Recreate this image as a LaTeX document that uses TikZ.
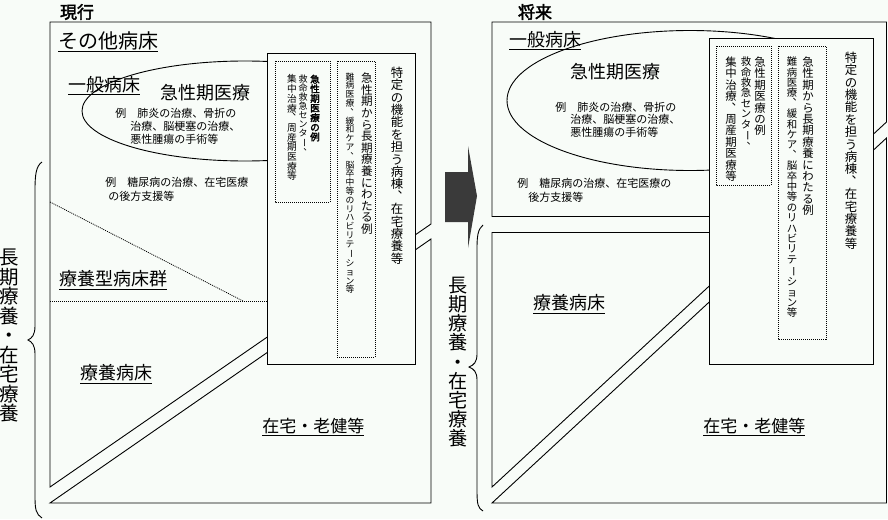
\documentclass[tikz,border=0pt]{standalone}
\usepackage{fontspec}
\usepackage{graphicx}
\setmainfont{Noto Sans CJK JP}[AutoFakeBold=2.5]
\newcommand\hsz[1]{\fontsize{#1}{#1}\selectfont}
\definecolor{bg}{RGB}{248,252,248}
\definecolor{arrowgrey}{RGB}{58,58,58}

\ExplSyntaxOn
\cs_new:Npn \tate_char:n #1
  {
    \str_case:nnF {#1}
      {
        {、}{ \hbox_to_wd:nn {1em} { \kern.55em \raisebox{.6em}[0pt][0pt]{\makebox[0pt][l]{、}} \hss } }
        {ー}{ \hbox_to_wd:nn {1em} { \hss \rotatebox[origin=c]{-90}{ー} \hss } }
      }
      { \hbox_to_wd:nn {1em} { \hss #1 \hss } }
  }
\NewDocumentCommand \tatebox { m }
  {
    \vbox:n
      {
        \offinterlineskip
        \tl_map_inline:nn {#1}
          { \hbox:n { \vrule height .88em depth .12em width 0pt \tate_char:n {##1} } }
      }
  }
\ExplSyntaxOff

\begin{document}
\begin{tikzpicture}[x=1pt, y=-1pt, line width=0.9pt]
  \tikzstyle{region} = [draw, fill=bg]
  \tikzstyle{dotbox} = [draw, line width=0.8pt, dash pattern=on 1pt off 1pt]
  \tikzstyle{lbl} = [anchor=west, inner sep=0pt, font=\hsz{18}]
  \tikzstyle{exl} = [anchor=west, inner sep=0pt, font=\hsz{11}]
  \tikzstyle{tate} = [anchor=north, inner sep=0pt]

  \useasboundingbox (0,0) rectangle (888,519);
  \fill[bg] (0,0) rectangle (888,519);

  % titles
  \node[inner sep=0pt, font=\hsz{17}\bfseries] (genko) at (77,12) {現行};
  \node[inner sep=0pt, font=\hsz{17}\bfseries] (shorai) at (535,12) {将来};

  % left panel
  \draw[region] (50,22) -- (431,22) -- (431,224) -- (50,487) -- cycle;
  \draw[region] (50,503) -- (431,503) -- (431,239) -- cycle;
  \draw[dotbox] (50,202) -- (243,301);
  \draw[dotbox] (50,301) -- (268,301);
  \draw (245,111) ellipse [x radius=163, y radius=50];

  \node[lbl, font=\hsz{20}] (sonota) at (58,42) {\underline{その他病床}};
  \node[lbl] (ippanL) at (68,86) {\underline{一般病床}};
  \node[lbl] (kyuseiL) at (160,93) {急性期医療};
  \node[exl] (exL1) at (115,113) {例　肺炎の治療、骨折の};
  \node[exl] (exL2) at (130,126) {治療、脳梗塞の治療、};
  \node[exl] (exL3) at (130,139) {悪性腫瘍の手術等};
  \node[exl] (exL4) at (105,182) {例　糖尿病の治療、在宅医療};
  \node[exl] (exL5) at (108,196) {の後方支援等};
  \node[lbl] (ryoyogata) at (59,280) {\underline{療養型病床群}};
  \node[lbl] (ryoyoL) at (80,374) {\underline{療養病床}};
  \node[lbl, font=\hsz{17}] (zaitakuL) at (262,427) {\underline{在宅・老健等}};

  \draw[region] (267,53) rectangle (415,364);
  \draw[dotbox] (275,61) rectangle (330,202);
  \draw[dotbox] (337,61) rectangle (375,357);
  \node[tate, font=\hsz{12.4}] (tokuteiL) at (397,66) {\tatebox{特定の機能を担う病棟、在宅療養等}};
  \node[tate, font=\hsz{11.6}] (choukiL) at (367,72) {\tatebox{急性期から長期療養にわたる例}};
  \node[tate, font=\hsz{8.8}] (nanbyoL) at (350,72) {\tatebox{難病医療、緩和ケア、脳卒中等のリハビリテーション等}};
  \node[tate, font=\hsz{9.6}\bfseries] (reiL) at (315,74) {\tatebox{急性期医療の例}};
  \node[tate, font=\hsz{9}] (kyumeiL) at (303,74) {\tatebox{救命救急センター、}};
  \node[tate, font=\hsz{9.7}] (shuchuL) at (292,74) {\tatebox{集中治療、周産期医療等}};

  \draw (42,162) .. controls (36,166) and (35,175) .. (35,190) -- (35,326)
    .. controls (35,335) and (32,338) .. (28,340)
    .. controls (32,342) and (35,345) .. (35,354) -- (35,496)
    .. controls (35,510) and (36,514) .. (42,518);
  \node[tate, font=\hsz{19.5}] (bikoL) at (9,247) {\tatebox{長期療養・在宅療養}};

  % arrow
  \fill[arrowgrey] (445,172) -- (468,172) -- (468,146) -- (477,196)
    -- (468,248) -- (468,222) -- (445,222) -- cycle;

  % right panel
  \draw[region] (492,22) -- (886.5,22) -- (886.5,122) -- (492,487) -- cycle;
  \draw[region] (492,503) -- (886.5,503) -- (886.5,138) -- cycle;
  \fill[bg] (490,216.5) rectangle (709,231.5);
  \draw (492,216) -- (709,216);
  \draw (492,232) -- (709,232);
  \draw (690,100.5) ellipse [x radius=183, y radius=70];

  \node[lbl] (ippanR) at (509,41) {\underline{一般病床}};
  \node[lbl] (kyuseiR) at (570,72) {急性期医療};
  \node[exl] (exR1) at (555,107) {例　肺炎の治療、骨折の};
  \node[exl] (exR2) at (570,119) {治療、脳梗塞の治療、};
  \node[exl] (exR3) at (570,132) {悪性腫瘍の手術等};
  \node[exl] (exR4) at (517,183) {例　糖尿病の治療、在宅医療の};
  \node[exl] (exR5) at (528,197) {後方支援等};
  \node[lbl] (ryoyoR) at (533,304) {\underline{療養病床}};
  \node[lbl, font=\hsz{17}] (zaitakuR) at (703,427) {\underline{在宅・老健等}};

  \draw[region] (709,38) rectangle (873,364);
  \draw[dotbox] (716,46) rectangle (771,185);
  \draw[dotbox] (778,46) rectangle (826,339);
  \node[tate, font=\hsz{12.4}] (tokuteiR) at (851,51) {\tatebox{特定の機能を担う病棟、在宅療養等}};
  \node[tate, font=\hsz{11.4}] (choukiR) at (808,56) {\tatebox{急性期から長期療養にわたる例}};
  \node[tate, font=\hsz{10.4}] (nanbyoR) at (792,56) {\tatebox{難病医療、緩和ケア、脳卒中等のリハビリテーション等}};
  \node[tate, font=\hsz{11.4}] (reiR) at (760,56) {\tatebox{急性期医療の例}};
  \node[tate, font=\hsz{10.4}] (kyumeiR) at (746,56) {\tatebox{救命救急センター、}};
  \node[tate, font=\hsz{11.4}] (shuchuR) at (731,56) {\tatebox{集中治療、周産期医療等}};

  \draw (483,225) .. controls (478,229) and (477,236) .. (477,248) -- (477,354)
    .. controls (477,362) and (474,365) .. (469,367)
    .. controls (474,369) and (477,372) .. (477,380) -- (477,490)
    .. controls (477,505) and (478,508) .. (483,511);
  \node[tate, font=\hsz{19.2}] (bikoR) at (458,275) {\tatebox{長期療養・在宅療養}};
\end{tikzpicture}
\end{document}
